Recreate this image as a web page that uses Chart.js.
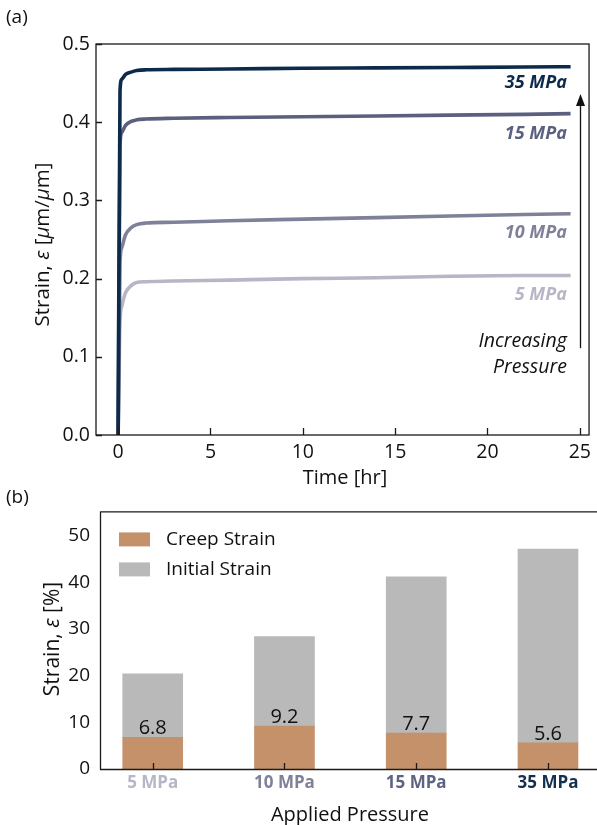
<!DOCTYPE html>
<html>
<head>
<meta charset="utf-8">
<script src="https://cdn.jsdelivr.net/npm/chart.js@4/dist/chart.umd.min.js"></script>
<style>
  html, body { margin: 0; padding: 0; background: #fff; overflow: hidden; }
  #wrap { position: relative; width: 597px; height: 825px; }
  #c1 { position: absolute; left: 0; top: 0; }
  #c2 { position: absolute; left: 0; top: 490px; }
</style>
</head>
<body>
<div id="wrap">
  <canvas id="c1" width="597" height="490"></canvas>
  <canvas id="c2" width="597" height="335"></canvas>
</div>
<script>
// ---------- Data (panel a) ----------
const timeHr = [0, 0.1, 0.2, 0.4, 0.7, 1.0, 1.5, 3, 6, 10, 14, 18, 22, 24.5];
const strain5  = [0, 0.145, 0.165, 0.182, 0.191, 0.195, 0.196, 0.197, 0.198, 0.200, 0.201, 0.203, 0.204, 0.204];
const strain10 = [0, 0.220, 0.240, 0.256, 0.265, 0.269, 0.271, 0.272, 0.274, 0.276, 0.278, 0.280, 0.282, 0.283];
const strain15 = [0, 0.370, 0.387, 0.396, 0.401, 0.403, 0.404, 0.405, 0.406, 0.407, 0.408, 0.409, 0.410, 0.411];
const strain35 = [0, 0.440, 0.455, 0.461, 0.464, 0.466, 0.467, 0.4675, 0.468, 0.469, 0.4695, 0.470, 0.4705, 0.471];
const seriesLabels = ['5 MPa', '10 MPa', '15 MPa', '35 MPa'];
const seriesColors = ['#b6b6c6', '#7f8199', '#5a607e', '#0c2a4a'];
const yTicksA = [0, 0.1, 0.2, 0.3, 0.4, 0.5];
const xTicksA = [0, 5, 10, 15, 20, 25];

// ---------- Data (panel b) ----------
const pressures = ['5 MPa', '10 MPa', '15 MPa', '35 MPa'];
const creepStrain = [6.8, 9.2, 7.7, 5.6];
const initialStrain = [13.6, 19.2, 33.5, 41.5];
const yTicksB = [0, 10, 20, 30, 40, 50];

const FONT = "'Open Sans', 'Noto Sans', sans-serif";
const AX = '#1a1a1a';

function drawRich(ctx, parts, size) {
  let total = 0;
  parts.forEach(p => { ctx.font = (p[1] ? 'italic ' : '') + size + 'px ' + FONT; total += ctx.measureText(p[0]).width; });
  let x = -total / 2;
  parts.forEach(p => {
    ctx.font = (p[1] ? 'italic ' : '') + size + 'px ' + FONT;
    ctx.fillText(p[0], x, 0);
    x += ctx.measureText(p[0]).width;
  });
}

// ---------- Chart (a) ----------
const seriesA = [strain5, strain10, strain15, strain35];
const datasetsA = seriesA.map((arr, i) => ({
  label: seriesLabels[i],
  data: arr.map((v, k) => ({ x: timeHr[k], y: v })),
  borderColor: seriesColors[i],
  borderWidth: 3.6,
  pointRadius: 0,
  cubicInterpolationMode: 'monotone',
  fill: false,
  order: 4 - i
}));

const panelA = {
  id: 'panelA',
  afterDatasetsDraw(chart) {
    const ctx = chart.ctx, a = chart.chartArea;
    const xs = chart.scales.x, ys = chart.scales.y;
    ctx.save();
    ctx.strokeStyle = AX; ctx.lineWidth = 1.3;
    ctx.strokeRect(a.left, a.top, a.right - a.left, a.bottom - a.top);
    ctx.beginPath();
    yTicksA.forEach(v => { const y = Math.round(ys.getPixelForValue(v)) + 0.5; ctx.moveTo(a.left, y); ctx.lineTo(a.left + 6, y); });
    xTicksA.forEach(v => { const x = Math.round(xs.getPixelForValue(v)) + 0.5; ctx.moveTo(x, a.bottom); ctx.lineTo(x, a.bottom - 7); });
    ctx.stroke();
    const labelPos = [0.179, 0.259, 0.385, 0.450];
    ctx.textAlign = 'right'; ctx.textBaseline = 'middle';
    ctx.font = 'italic bold 18px ' + FONT;
    seriesLabels.forEach((t, i) => {
      ctx.fillStyle = seriesColors[i];
      ctx.fillText(t, xs.getPixelForValue(24.3), ys.getPixelForValue(labelPos[i]));
    });
    ctx.fillStyle = '#111';
    ctx.font = 'italic 19.5px ' + FONT;
    ctx.fillText('Increasing', xs.getPixelForValue(24.3), ys.getPixelForValue(0.120));
    ctx.fillText('Pressure', xs.getPixelForValue(24.3), ys.getPixelForValue(0.086));
    const ax = Math.round(xs.getPixelForValue(25.0)) + 0.5;
    const yb = ys.getPixelForValue(0.111), yt = ys.getPixelForValue(0.436);
    ctx.strokeStyle = '#111'; ctx.lineWidth = 1.3;
    ctx.beginPath(); ctx.moveTo(ax, yb); ctx.lineTo(ax, yt + 8); ctx.stroke();
    ctx.beginPath(); ctx.moveTo(ax, yt); ctx.lineTo(ax - 4.5, yt + 12); ctx.lineTo(ax + 4.5, yt + 12); ctx.closePath(); ctx.fill();
    ctx.fillStyle = '#111'; ctx.textAlign = 'left'; ctx.textBaseline = 'middle';
    ctx.save();
    ctx.translate(43, (a.top + a.bottom) / 2 + 5);
    ctx.rotate(-Math.PI / 2);
    drawRich(ctx, [['Strain, ', false], ['ε', true], [' [', false], ['μ', true], ['m/', false], ['μ', true], ['m]', false]], 20.5);
    ctx.restore();
    ctx.textAlign = 'center';
    ctx.font = '20px ' + FONT;
    ctx.fillText('Time [hr]', 345, 478);
    ctx.textAlign = 'left';
    ctx.font = '19px ' + FONT;
    ctx.fillText('(a)', 6, 18);
    ctx.restore();
  }
};

new Chart(document.getElementById('c1'), {
  type: 'line',
  data: { datasets: datasetsA },
  options: {
    responsive: false,
    animation: false,
    devicePixelRatio: 1,
    layout: { padding: { top: 44, right: 2, left: 0, bottom: 0 } },
    plugins: { legend: { display: false }, tooltip: { enabled: false } },
    scales: {
      x: {
        type: 'linear', min: -1.2, max: 25.5,
        grid: { display: false, drawTicks: false },
        border: { display: false },
        ticks: { stepSize: 5, includeBounds: false, padding: 6, color: '#111', font: { family: FONT, size: 19.5 }, maxRotation: 0 },
        afterFit(s) { s.height = 55; }
      },
      y: {
        type: 'linear', min: 0, max: 0.5,
        grid: { display: false, drawTicks: false },
        border: { display: false },
        ticks: { stepSize: 0.1, padding: 6, color: '#111', font: { family: FONT, size: 19.5 }, callback: v => v.toFixed(1) },
        afterFit(s) { s.width = 96; }
      }
    }
  },
  plugins: [panelA]
});

// ---------- Chart (b) ----------
const tickColorsB = ['#b6b6c6', '#7f8199', '#5d6380', '#14304f'];
const panelB = {
  id: 'panelB',
  afterDatasetsDraw(chart) {
    const ctx = chart.ctx, a = chart.chartArea;
    const xs = chart.scales.x, ys = chart.scales.y;
    ctx.save();
    ctx.strokeStyle = AX; ctx.lineWidth = 1.3;
    ctx.beginPath();
    ctx.moveTo(a.left + 0.5, a.top + 0.5); ctx.lineTo(chart.width, a.top + 0.5);
    ctx.moveTo(a.left + 0.5, a.top); ctx.lineTo(a.left + 0.5, a.bottom + 0.5);
    ctx.moveTo(a.left, a.bottom + 0.5); ctx.lineTo(chart.width, a.bottom + 0.5);
    pressures.forEach((p, i) => { const x = Math.round(xs.getPixelForValue(i)) + 0.5; ctx.moveTo(x, a.bottom); ctx.lineTo(x, a.bottom - 6); });
    ctx.stroke();
    ctx.fillStyle = '#111'; ctx.textAlign = 'center'; ctx.textBaseline = 'bottom';
    ctx.font = '20px ' + FONT;
    creepStrain.forEach((v, i) => {
      ctx.fillText(v.toFixed(1), xs.getPixelForValue(i), ys.getPixelForValue(v) + 1);
    });
    const items = [['Creep Strain', '#c4916a'], ['Initial Strain', '#b8b9b8']];
    ctx.textAlign = 'left'; ctx.textBaseline = 'middle';
    ctx.font = '19px ' + FONT;
    items.forEach((it, k) => {
      const cy = a.top + 28 + k * 30;
      ctx.fillStyle = it[1];
      ctx.fillRect(a.left + 19, cy - 7, 31, 14);
      ctx.fillStyle = '#111';
      ctx.fillText(it[0], a.left + 66, cy);
    });
    ctx.save();
    ctx.translate(53, 149);
    ctx.rotate(-Math.PI / 2);
    drawRich(ctx, [['Strain, ', false], ['ε', true], [' [%]', false]], 21);
    ctx.restore();
    ctx.textAlign = 'center';
    ctx.font = '20px ' + FONT;
    ctx.fillText('Applied Pressure', 350, 325);
    ctx.textAlign = 'left';
    ctx.font = '19px ' + FONT;
    ctx.fillText('(b)', 6, 8);
    ctx.restore();
  }
};

new Chart(document.getElementById('c2'), {
  type: 'bar',
  data: {
    datasets: [
      { label: 'Creep Strain', data: creepStrain.map((v, i) => ({ x: i, y: v })), backgroundColor: '#c4916a', barThickness: 60 },
      { label: 'Initial Strain', data: initialStrain.map((v, i) => ({ x: i, y: v })), backgroundColor: '#b8b9b8', barThickness: 60 }
    ]
  },
  options: {
    responsive: false,
    animation: false,
    devicePixelRatio: 1,
    layout: { padding: { top: 19, right: 0, left: 0, bottom: 0 } },
    plugins: { legend: { display: false }, tooltip: { enabled: false } },
    scales: {
      x: {
        type: 'linear', stacked: true, min: -0.4, max: 3.372, offset: false,
        grid: { display: false, drawTicks: false },
        border: { display: false },
        ticks: {
          stepSize: 1, includeBounds: false, padding: 4, maxRotation: 0,
          font: { family: FONT, size: 17, weight: 'bold' },
          color: c => tickColorsB[c.tick ? c.tick.value : 0] || '#111',
          callback: v => pressures[v] || ''
        },
        afterFit(s) { s.height = 56; }
      },
      y: {
        type: 'linear', stacked: true, min: 0, max: 55.2,
        grid: { display: false, drawTicks: false },
        border: { display: false },
        ticks: { stepSize: 10, includeBounds: false, padding: 10, color: '#111', font: { family: FONT, size: 19 } },
        afterFit(s) { s.width = 100; }
      }
    }
  },
  plugins: [panelB]
});
</script>
</body>
</html>
